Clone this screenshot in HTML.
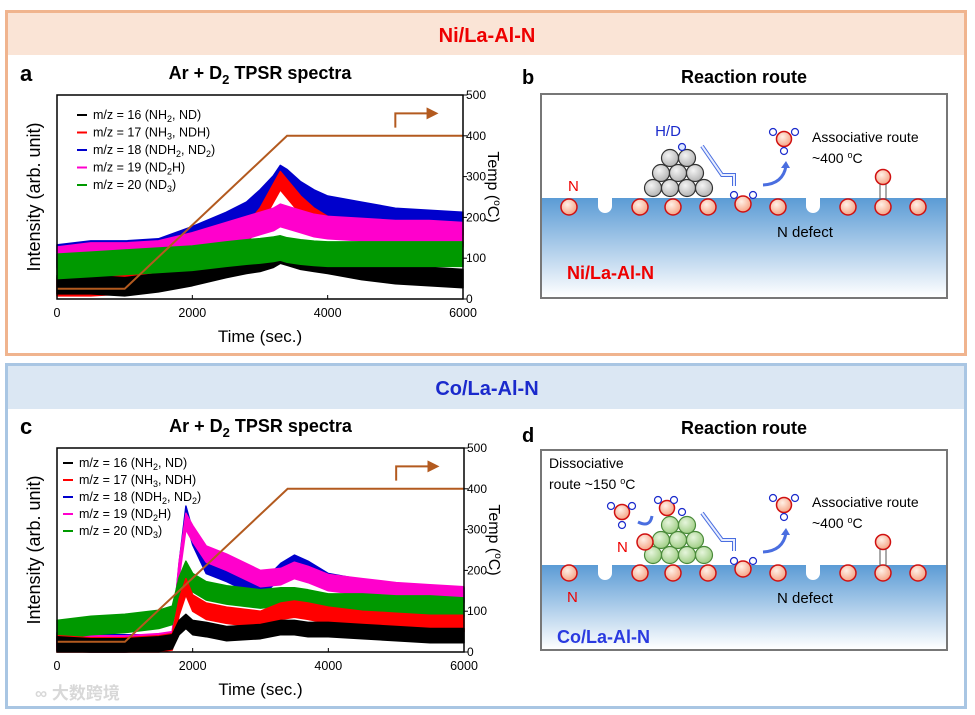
<!DOCTYPE html>
<html><head><meta charset="utf-8"><style>
html,body{margin:0;padding:0;background:#fff;}
svg{display:block;font-family:"Liberation Sans","Noto Sans CJK SC",sans-serif;}
</style></head><body>
<svg id="fig" width="975" height="715" viewBox="0 0 975 715">
<defs>
<linearGradient id="sub" x1="0" y1="0" x2="0" y2="1"><stop offset="0" stop-color="#5b9bd5"/><stop offset="1" stop-color="#ffffff"/></linearGradient>
<radialGradient id="natom" cx="0.4" cy="0.35" r="0.7"><stop offset="0" stop-color="#fff0e6"/><stop offset="1" stop-color="#f5a080"/></radialGradient>
<radialGradient id="niatom" cx="0.4" cy="0.35" r="0.7"><stop offset="0" stop-color="#f4f4f4"/><stop offset="1" stop-color="#b0b0b0"/></radialGradient>
<radialGradient id="coatom" cx="0.4" cy="0.35" r="0.7"><stop offset="0" stop-color="#e6f5dc"/><stop offset="1" stop-color="#9ccc80"/></radialGradient>
<marker id="arrowB" markerWidth="6" markerHeight="6" refX="3" refY="3" orient="auto"><path d="M0,0 L6,3 L0,6 z" fill="#b35a1f"/></marker>
</defs>

<rect x="6.5" y="11.5" width="959" height="343" fill="#fff" stroke="#f0b48e" stroke-width="3"/>
<rect x="8" y="13" width="956" height="42" fill="#fae4d6"/>
<text x="487" y="42" text-anchor="middle" font-size="20" font-weight="bold" fill="#ee0000">Ni/La-Al-N</text>

<rect x="6.5" y="364.5" width="959" height="343" fill="#fff" stroke="#a9c6e3" stroke-width="3"/>
<rect x="8" y="366" width="956" height="43" fill="#dbe7f3"/>
<text x="487" y="395" text-anchor="middle" font-size="20" font-weight="bold" fill="#1a2acc">Co/La-Al-N</text>

<g id="chartA"></g>
<g id="chartC"></g>

<g>
<text x="522" y="84" font-size="20" font-weight="bold">b</text>
<text x="744" y="83" text-anchor="middle" font-size="18" font-weight="bold">Reaction route</text>
<rect x="541" y="94" width="406" height="204" fill="#fff" stroke="#777" stroke-width="2"/>
<rect x="542" y="198" width="404" height="99" fill="url(#sub)"/>
<path d="M598,198 v8 a7,7 0 0 0 14,0 v-8 z M806,198 v8 a7,7 0 0 0 14,0 v-8 z" fill="#fff"/>
<g stroke="#d01010" stroke-width="1.5" fill="url(#natom)">
<circle cx="569" cy="207" r="8"/><circle cx="640" cy="207" r="8"/><circle cx="673" cy="207" r="8"/><circle cx="708" cy="207" r="8"/><circle cx="743" cy="204" r="8"/><circle cx="778" cy="207" r="8"/><circle cx="848" cy="207" r="8"/><circle cx="883" cy="207" r="8"/><circle cx="918" cy="207" r="8"/>
</g>
<g stroke="#333" stroke-width="1.2" fill="url(#niatom)">
<circle cx="653" cy="188" r="8.5"/><circle cx="670" cy="188" r="8.5"/><circle cx="687" cy="188" r="8.5"/><circle cx="704" cy="188" r="8.5"/>
<circle cx="661" cy="173" r="8.5"/><circle cx="678" cy="173" r="8.5"/><circle cx="695" cy="173" r="8.5"/>
<circle cx="670" cy="158" r="8.5"/><circle cx="687" cy="158" r="8.5"/>
</g>
<circle cx="682" cy="147" r="3.5" fill="#dde8ff" stroke="#1a2acc" stroke-width="1.2"/>
<text x="668" y="136" text-anchor="middle" font-size="15" fill="#1a2acc">H/D</text>
<g stroke="#1a2acc" stroke-width="1.2" fill="#fff"><circle cx="734" cy="195" r="3.5"/><circle cx="753" cy="195" r="3.5"/></g>
<g>
<circle cx="784" cy="139" r="7.5" fill="url(#natom)" stroke="#d01010" stroke-width="1.5"/>
<g stroke="#1a2acc" stroke-width="1.2" fill="#fff"><circle cx="773" cy="132" r="3.5"/><circle cx="795" cy="132" r="3.5"/><circle cx="784" cy="151" r="3.5"/></g>
</g>
<path d="M702,146 L722,175 L734,175 L734,186" fill="none" stroke="#4a6ee0" stroke-width="4"/>
<path d="M702,146 L722,175 L734,175 L734,186" fill="none" stroke="#e8eeff" stroke-width="2"/>
<path d="M763,185 Q783,184 786,166" fill="none" stroke="#4a6ee0" stroke-width="3"/>
<path d="M781,168 L786,161 L790,168 z" fill="#4a6ee0"/>
<circle cx="883" cy="177" r="7.5" fill="url(#natom)" stroke="#d01010" stroke-width="1.5"/>
<path d="M880,184 V200 M886,184 V200" stroke="#555" stroke-width="1"/>
<text x="812" y="142" font-size="14">Associative route</text>
<text x="812" y="163" font-size="14">~400 <tspan font-size="9" dy="-5">o</tspan><tspan dy="5">C</tspan></text>
<text x="777" y="237" font-size="15">N defect</text>
<text x="568" y="191" font-size="15" fill="#ee0000">N</text>
<text x="567" y="279" font-size="18" font-weight="bold" fill="#ee0000">Ni/La-Al-N</text>
</g>

<g>
<text x="522" y="442" font-size="20" font-weight="bold">d</text>
<text x="744" y="434" text-anchor="middle" font-size="18" font-weight="bold">Reaction route</text>
<rect x="541" y="450" width="406" height="200" fill="#fff" stroke="#777" stroke-width="2"/>
<rect x="542" y="565" width="404" height="84" fill="url(#sub)"/>
<path d="M598,565 v8 a7,7 0 0 0 14,0 v-8 z M806,565 v8 a7,7 0 0 0 14,0 v-8 z" fill="#fff"/>
<g stroke="#d01010" stroke-width="1.5" fill="url(#natom)">
<circle cx="569" cy="573" r="8"/><circle cx="640" cy="573" r="8"/><circle cx="673" cy="573" r="8"/><circle cx="708" cy="573" r="8"/><circle cx="743" cy="569" r="8"/><circle cx="778" cy="573" r="8"/><circle cx="848" cy="573" r="8"/><circle cx="883" cy="573" r="8"/><circle cx="918" cy="573" r="8"/>
</g>
<g stroke="#4a8a3a" stroke-width="1.2" fill="url(#coatom)">
<circle cx="653" cy="555" r="8.5"/><circle cx="670" cy="555" r="8.5"/><circle cx="687" cy="555" r="8.5"/><circle cx="704" cy="555" r="8.5"/>
<circle cx="661" cy="540" r="8.5"/><circle cx="678" cy="540" r="8.5"/><circle cx="695" cy="540" r="8.5"/>
<circle cx="670" cy="525" r="8.5"/><circle cx="687" cy="525" r="8.5"/>
</g>
<circle cx="645" cy="542" r="8" fill="url(#natom)" stroke="#d01010" stroke-width="1.5"/>
<g>
<circle cx="622" cy="512" r="7.5" fill="url(#natom)" stroke="#d01010" stroke-width="1.5"/>
<circle cx="667" cy="508" r="7.5" fill="url(#natom)" stroke="#d01010" stroke-width="1.5"/>
<circle cx="784" cy="505" r="7.5" fill="url(#natom)" stroke="#d01010" stroke-width="1.5"/>
<g stroke="#1a2acc" stroke-width="1.2" fill="#fff">
<circle cx="611" cy="506" r="3.5"/><circle cx="632" cy="506" r="3.5"/><circle cx="622" cy="525" r="3.5"/>
<circle cx="658" cy="500" r="3.5"/><circle cx="674" cy="500" r="3.5"/><circle cx="682" cy="512" r="3.5"/>
<circle cx="773" cy="498" r="3.5"/><circle cx="795" cy="498" r="3.5"/><circle cx="784" cy="517" r="3.5"/>
<circle cx="734" cy="561" r="3.5"/><circle cx="753" cy="561" r="3.5"/>
</g></g>
<path d="M652,516 Q650,528 638,522" fill="none" stroke="#4a6ee0" stroke-width="3"/>
<path d="M702,513 L722,540 L734,540 L734,551" fill="none" stroke="#4a6ee0" stroke-width="4"/>
<path d="M702,513 L722,540 L734,540 L734,551" fill="none" stroke="#e8eeff" stroke-width="2"/>
<path d="M763,552 Q783,551 786,533" fill="none" stroke="#4a6ee0" stroke-width="3"/>
<path d="M781,535 L786,528 L790,535 z" fill="#4a6ee0"/>
<circle cx="883" cy="542" r="7.5" fill="url(#natom)" stroke="#d01010" stroke-width="1.5"/>
<path d="M880,549 V566 M886,549 V566" stroke="#555" stroke-width="1"/>
<text x="549" y="468" font-size="14">Dissociative</text>
<text x="549" y="489" font-size="14">route ~150 <tspan font-size="9" dy="-5">o</tspan><tspan dy="5">C</tspan></text>
<text x="812" y="507" font-size="14">Associative route</text>
<text x="812" y="528" font-size="14">~400 <tspan font-size="9" dy="-5">o</tspan><tspan dy="5">C</tspan></text>
<text x="777" y="603" font-size="15">N defect</text>
<text x="617" y="552" font-size="15" fill="#ee0000">N</text>
<text x="567" y="602" font-size="15" fill="#ee0000">N</text>
<text x="557" y="643" font-size="18" font-weight="bold" fill="#2a3ae0">Co/La-Al-N</text>
</g>

<text x="35" y="699" font-size="17" fill="#d8d8d8" font-weight="bold">∞ 大数跨境</text>
</svg>
<script>
// ---- Chart a data ----
const timesA = [0,500,1000,1500,2000,2500,2800,3000,3200,3300,3400,3600,3800,4000,4500,5000,5500,6000];
const blueA  = [105,115,115,120,150,185,210,240,275,300,290,260,240,225,210,195,190,185];
const redA   = [30,30,35,50,75,120,160,200,260,290,270,230,200,180,165,160,155,150];
const pinkA  = [100,110,110,115,135,160,175,185,195,205,200,190,180,175,170,165,165,160];
const greenA = [80,85,90,95,100,110,115,118,122,125,120,115,112,110,110,110,110,110];
const blackA = [35,35,30,40,55,75,85,90,100,110,105,95,90,85,70,60,55,50];
// ---- Chart c data ----
const timesC = [0,500,1000,1500,1700,1800,1900,2000,2200,2500,3000,3300,3500,3700,4000,4500,5000,5500,6000];
const blueC  = [30,25,25,25,30,200,340,280,210,190,150,200,220,205,175,160,150,145,140];
const pinkC  = [25,20,20,25,30,200,320,290,240,220,180,185,200,190,170,160,150,145,140];
const greenC = [55,65,70,80,90,160,200,170,150,140,130,135,135,130,120,120,115,115,110];
const redC   = [20,15,15,20,25,110,160,120,100,90,80,100,105,100,90,80,75,70,70];
const blackC = [20,15,15,20,25,60,75,60,55,45,50,60,60,55,55,50,45,40,40];
// ---- Temperature program ----
const tempTimes = [0,1000,3400,6000];
const tempVals = [25,25,400,400];
const xTicks = [0,2000,4000,6000];
const yTicks = [0,100,200,300,400,500];
const legendLabels = [
  ['m/z = 16 (NH','2',', ND)'],
  ['m/z = 17 (NH','3',', NDH)'],
  ['m/z = 18 (NDH','2',', ND','2',')'],
  ['m/z = 19 (ND','2','H)'],
  ['m/z = 20 (ND','3',')']
];
const legendColors = ['#000000','#ff0000','#0000cc','#ff00cc','#009900'];

const NS = 'http://www.w3.org/2000/svg';
function mk(tag, attrs, parent){const e=document.createElementNS(NS,tag);for(const k in attrs)e.setAttribute(k,attrs[k]);parent.appendChild(e);return e;}

function drawChart(gid, o, times, series, label, noise){
  const g = document.getElementById(gid);
  const X = t => o.x0 + (t/6000)*(o.x1-o.x0);
  const Y = v => o.y1 - (v/500)*(o.y1-o.y0);
  let t = mk('text',{x:o.x0-37,y:o.y0-14,'font-size':22,'font-weight':'bold'},g); t.textContent=label;
  
  
  t = mk('text',{x:(o.x0+o.x1)/2,y:o.y0-16,'text-anchor':'middle','font-size':18,'font-weight':'bold'},g);
  t.innerHTML='Ar + D<tspan font-size="13" dy="5">2</tspan><tspan dy="-5"> TPSR spectra</tspan>';
  
  
  series.forEach((s,i)=>{
    let up='',lo='';
    s.vals.forEach((v,j)=>{up+=X(times[j]).toFixed(1)+','+Y(Math.min(500,v+noise[i]/2)).toFixed(1)+' ';});
    for(let j=s.vals.length-1;j>=0;j--){lo+=X(times[j]).toFixed(1)+','+Y(Math.max(0,s.vals[j]-noise[i]/2)).toFixed(1)+' ';}
    const p = mk('polygon',{points:up+lo,fill:s.color,stroke:s.color,'stroke-width':1.5,'stroke-linejoin':'round'},g);
    
    
  });
  let pts = tempTimes.map((tt,j)=>X(tt)+','+Y(tempVals[j])).join(' ');
  const tl = mk('polyline',{points:pts,fill:'none',stroke:'#b35a1f','stroke-width':2},g);
  
  
  const ar = mk('path',{d:`M${X(5000)},${Y(420)} V${Y(455)} H${X(5550)}`,fill:'none',stroke:'#b35a1f','stroke-width':2,'marker-end':'url(#arrowB)'},g);
  
  
  const fr = mk('rect',{x:o.x0,y:o.y0,width:o.x1-o.x0,height:o.y1-o.y0,fill:'none',stroke:'#000','stroke-width':1.5},g);
  
  
  xTicks.forEach(v=>{
    mk('line',{x1:X(v),x2:X(v),y1:o.y1,y2:o.y1-4,stroke:'#000'},g);
    const tx = mk('text',{x:X(v),y:o.y1+18,'text-anchor':'middle','font-size':12.5},g); tx.textContent=v;
    
    
  });
  yTicks.forEach(v=>{
    mk('line',{x1:o.x1,x2:o.x1+4,y1:Y(v),y2:Y(v),stroke:'#000'},g);
    const tx = mk('text',{x:o.x1+3,y:Y(v)+4,'font-size':12},g); tx.textContent=v;
    
    
  });
  t = mk('text',{x:(o.x0+o.x1)/2,y:o.y1+43,'text-anchor':'middle','font-size':17},g); t.textContent='Time (sec.)';
  
  
  t = mk('text',{transform:`translate(${o.x0-17},${(o.y0+o.y1)/2}) rotate(-90)`,'text-anchor':'middle','font-size':18},g); t.textContent='Intensity (arb. unit)';
  
  
  t = mk('text',{transform:`translate(${o.x1+25},${(o.y0+o.y1)/2-10}) rotate(90)`,'text-anchor':'middle','font-size':16},g);
  t.innerHTML='Temp (<tspan font-size="10" dy="-6">o</tspan><tspan dy="6">C)</tspan>';
  
  
  legendLabels.forEach((parts,i)=>{
    const yy = o.ly + i*o.ld;
    mk('line',{x1:o.lx,x2:o.lx+10,y1:yy-4,y2:yy-4,stroke:legendColors[i],'stroke-width':2},g);
    const tx = mk('text',{x:o.lx+16,y:yy,'font-size':12.5},g);
    let h='';
    parts.forEach((p,k)=>{ if(k%2===1) h+=`<tspan font-size="9" dy="3">${p}</tspan>`; else h+=`<tspan dy="${k?-3:0}">${p}</tspan>`; });
    tx.innerHTML=h;
    
    
  });
}
drawChart('chartA',{x0:57,x1:463,y0:95,y1:299,lx:77,ly:119,ld:17.5},timesA,[
  {name:'m18',color:'#0000cc',vals:blueA},
  {name:'m17',color:'#ff0000',vals:redA},
  {name:'m19',color:'#ff00cc',vals:pinkA},
  {name:'m16',color:'#000000',vals:blackA},
  {name:'m20',color:'#009900',vals:greenA}
],'a',[55,45,55,45,60]);
drawChart('chartC',{x0:57,x1:464,y0:448,y1:652,lx:63,ly:467,ld:17},timesC,[
  {name:'m18',color:'#0000cc',vals:blueC},
  {name:'m19',color:'#ff00cc',vals:pinkC},
  {name:'m20',color:'#009900',vals:greenC},
  {name:'m17',color:'#ff0000',vals:redC},
  {name:'m16',color:'#000000',vals:blackC}
],'c',[35,40,45,40,35]);
</script>
</body></html>
